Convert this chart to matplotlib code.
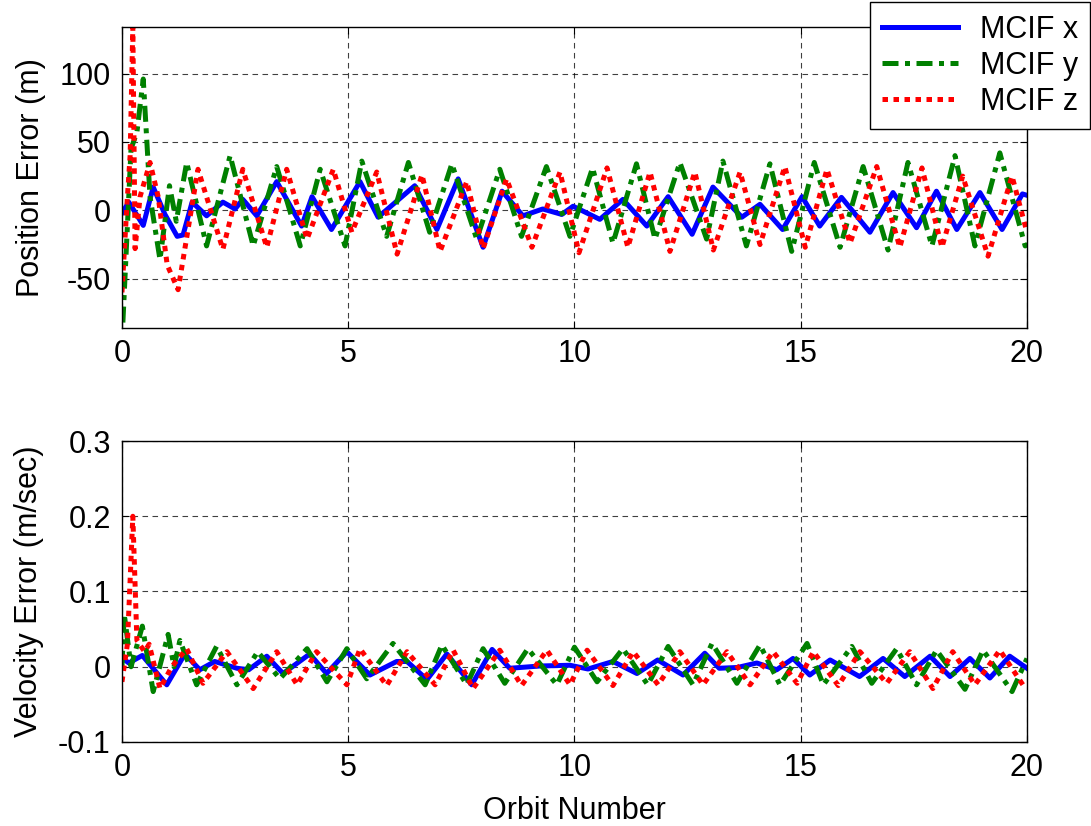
"""
Erreurs de position et de vitesse MCIF (x, y, z) en fonction du numéro d'orbite.
"""
import matplotlib
matplotlib.use("Agg")
import matplotlib.pyplot as plt

# Erreur de position (m) - extrema
pos_x_orbit = [0, 0.15, 0.47, 0.69, 0.95, 1.22, 1.35, 1.55, 1.87, 2.23, 2.5, 2.67, 2.98, 3.42,
               3.97, 4.2, 4.63, 5.26, 5.66, 6.47, 6.96, 7.43, 7.98, 8.4, 8.86, 9.3, 9.72, 9.97,
               10.56, 11.07, 11.6, 12.07, 12.6, 13.06, 13.7, 14.1, 14.6, 15.03, 15.42, 15.9,
               16.53, 17.04, 17.56, 18.0, 18.45, 18.96, 19.45, 19.9, 20]
pos_x = [-2, 6, -11, 17, -3, -19, -18, 6, -4, 6, 1, 8, -4, 21,
         -11.5, 10, -14, 21, -5, 18, -14, 23, -27, 14, -4, 1, -3, 3,
         -6.6, 8, -11.5, 10, -17.5, 17, -5, 4.4, -14, 10, -11.5, 9.5,
         -16, 13, -12.7, 14, -14, 13, -14, 12, 11]

pos_y_orbit = [0.02, 0.2, 0.33, 0.47, 0.62, 0.84, 1.05, 1.2, 1.43, 1.87, 2.39, 2.9, 3.42, 3.94,
               4.38, 4.93, 5.3, 5.85, 6.33, 6.8, 7.29, 7.84, 8.35, 8.83, 9.38, 9.9, 10.4, 10.85,
               11.37, 11.78, 12.33, 12.92, 13.28, 13.8, 14.32, 14.8, 15.3, 15.87, 16.38, 16.93,
               17.37, 17.9, 18.41, 18.85, 19.4, 19.96, 20]
pos_y = [-82, 45, 57, 96, 10, -36, 18, -8, 35, -26, 40, -26, 32, -26,
         30, -26, 36, -19, 35, -16, 34, -21, 30, -19, 32, -19, 31, -24,
         34, -21, 35, -21, 36, -26, 34, -30, 35, -27, 32, -29,
         35, -26, 40, -26, 42, -26, -25]

pos_z_orbit = [0.0, 0.12, 0.18, 0.24, 0.29, 0.4, 0.62, 0.8, 1.0, 1.24, 1.68, 2.23, 2.67, 3.2,
               3.64, 4.09, 4.67, 5.08, 5.63, 6.08, 6.63, 7.03, 7.62, 7.98, 8.5, 9.06, 9.68,
               10.1, 10.72, 11.18, 11.67, 12.11, 12.66, 13.07, 13.66, 14.1, 14.65, 15.1, 15.58,
               16.09, 16.68, 17.19, 17.68, 18.12, 18.58, 19.14, 19.67, 20]
pos_z = [-60, 10, 40, 134, -28, 10, 35, 10, -40, -58, 30, -28.5, 30, -27,
         30, -21, 30, -16, 28, -32, 26, -30, 21, -28, 23, -27, 28,
         -31, 31, -27, 28, -30, 28, -29, 28, -25, 32, -27, 30,
         -24, 32, -27, 31, -27, 25, -33.5, 25, -16]

# Erreur de vitesse (m/sec)
vel_x_orbit = [0, 0.15, 0.45, 0.99, 1.39, 1.72, 2.05, 2.54, 2.8, 3.2, 3.56, 4.15, 4.52, 4.97,
               5.48, 6.07, 6.3, 6.74, 7.18, 7.73, 8.18, 8.57, 9.24, 9.9, 10.3, 10.85, 11.38,
               11.84, 12.4, 12.88, 13.2, 13.6, 14.03, 14.47, 14.83, 15.2, 15.65, 16.3, 16.82,
               17.3, 17.86, 18.3, 18.74, 19.18, 19.62, 20]
vel_x = [0.012, 0.005, 0.015, -0.024, 0.017, -0.004, 0.007, -0.002, -0.004, 0.014, -0.009,
         0.017, -0.009, 0.02, -0.011, 0.007, 0.007, -0.017, 0.017, -0.024, 0.023, -0.002,
         0.001, 0.002, -0.003, 0.007, -0.009, 0.009, -0.011, 0.018, -0.002, -0.001, 0.005,
         -0.004, 0.011, -0.011, 0.009, -0.013, 0.011, -0.013, 0.014, -0.013, 0.011, -0.015,
         0.014, -0.002]

vel_y_orbit = [0.0, 0.05, 0.2, 0.45, 0.69, 1.02, 1.15, 1.28, 1.65, 2.09, 2.54, 3.0, 3.49, 4.09,
               4.53, 4.97, 5.41, 5.99, 6.7, 7.07, 7.62, 7.98, 8.46, 8.97, 9.61, 10.0, 10.5,
               11.07, 11.62, 12.07, 12.62, 13.04, 13.59, 14.1, 14.54, 15.14, 15.5, 16.13,
               16.57, 17.12, 17.56, 18.0, 18.63, 19.03, 19.67, 20]
vel_y = [0.0, 0.07, 0.0, 0.054, -0.033, 0.043, 0.0, 0.035, -0.024, 0.027, -0.024, 0.02,
         -0.016, 0.024, -0.02, 0.024, -0.016, 0.031, -0.024, 0.029, -0.024, 0.024, -0.022,
         0.024, -0.024, 0.026, -0.02, 0.024, -0.024, 0.027, -0.024, 0.031, -0.022, 0.029,
         -0.024, 0.031, -0.024, 0.027, -0.022, 0.024, -0.024, 0.022, -0.03, 0.022, -0.033,
         0.011]

vel_z_orbit = [0, 0.12, 0.24, 0.33, 0.5, 0.6, 0.84, 1.1, 1.43, 1.79, 2.32, 2.9, 3.42, 3.87,
               4.3, 4.97, 5.26, 5.85, 6.3, 6.92, 7.32, 7.76, 8.35, 8.83, 9.39, 9.9, 10.28,
               10.85, 11.3, 11.85, 12.33, 12.84, 13.37, 13.88, 14.39, 14.92, 15.28, 15.83,
               16.31, 16.9, 17.41, 17.92, 18.36, 18.85, 19.4, 19.91, 20]
vel_z = [-0.02, 0.03, 0.2, 0.035, 0.02, 0.03, -0.029, 0.0, 0.024, -0.022, 0.02, -0.029,
         0.02, -0.024, 0.02, -0.024, 0.024, -0.025, 0.02, -0.024, 0.022, -0.029, 0.022,
         -0.025, 0.022, -0.024, 0.022, -0.025, 0.02, -0.024, 0.02, -0.024, 0.02, -0.024,
         0.02, -0.022, 0.02, -0.025, 0.02, -0.022, 0.02, -0.029, 0.02, -0.024, 0.022,
         -0.024, -0.02]

labels = ["MCIF x", "MCIF y", "MCIF z"]
x_ticks = [0, 5, 10, 15, 20]

plt.rcParams["font.family"] = ["Liberation Sans", "DejaVu Sans"]
plt.rcParams["font.size"] = 22

fig = plt.figure(figsize=(10.91, 8.26), dpi=100)
ax1 = fig.add_axes([0.1118, 0.6029, 0.8295, 0.3644])
ax2 = fig.add_axes([0.1118, 0.1017, 0.8295, 0.3644])

lw = 3.6
styles = [
    dict(color=(0, 0, 1), linestyle="-"),
    dict(color=(0, 0.5, 0), linestyle=(0, (3.2, 1.3, 1.0, 1.3))),
    dict(color=(1, 0, 0), linestyle=(0, (1.1, 1.1))),
]

ax1.plot(pos_x_orbit, pos_x, lw=lw, label=labels[0], solid_joinstyle="round", **styles[0])
ax1.plot(pos_y_orbit, pos_y, lw=lw, label=labels[1], **styles[1])
ax1.plot(pos_z_orbit, pos_z, lw=lw, label=labels[2], **styles[2])
ax2.plot(vel_x_orbit, vel_x, lw=lw, solid_joinstyle="round", **styles[0])
ax2.plot(vel_y_orbit, vel_y, lw=lw, **styles[1])
ax2.plot(vel_z_orbit, vel_z, lw=lw, **styles[2])

ax1.set_ylim(-86, 134)
ax1.set_yticks([-50, 0, 50, 100])
ax1.set_yticklabels(["-50", "0", "50", "100"])
ax2.set_ylim(-0.1, 0.3)
ax2.set_yticks([-0.1, 0, 0.1, 0.2, 0.3])
ax2.set_yticklabels(["-0.1", "0", "0.1", "0.2", "0.3"])

for ax in (ax1, ax2):
    ax.set_xlim(0, 20)
    ax.set_xticks(x_ticks)
    ax.grid(True, color="black", linestyle=(0, (5, 4)), linewidth=0.8, alpha=0.75)
    ax.tick_params(direction="in", top=True, right=True, length=5, width=0.8, pad=8)
    for s in ax.spines.values():
        s.set_linewidth(1.0)

ax1.set_ylabel("Position Error (m)", labelpad=10)
ax2.set_ylabel("Velocity Error (m/sec)", labelpad=10)
ax2.set_xlabel("Orbit Number", labelpad=9)

# légende collée en haut à droite de la figure, comme dans MATLAB
leg = ax1.legend(loc="upper right", bbox_to_anchor=(0.999, 0.997),
                 bbox_transform=fig.transFigure, fancybox=False, framealpha=1,
                 edgecolor="black", handlelength=2.5, borderpad=0.4,
                 labelspacing=0.2, handletextpad=0.7, borderaxespad=0)
leg.get_frame().set_linewidth(1.0)

fig.savefig("out.png", dpi=100)
